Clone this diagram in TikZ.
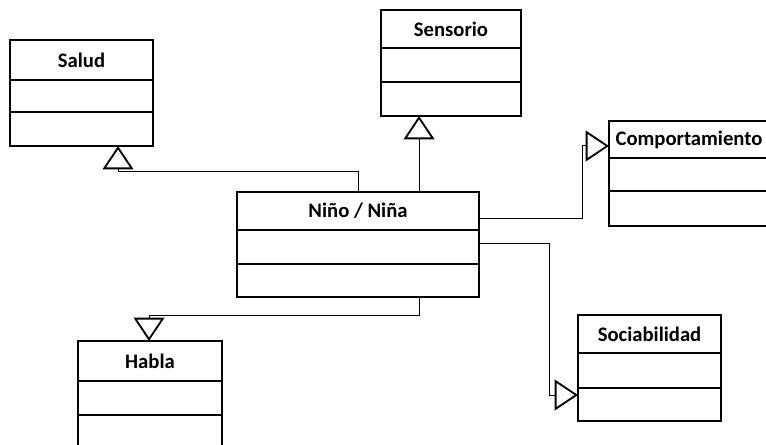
\documentclass[tikz,border=0pt]{standalone}
\usepackage{fontspec}
\setmainfont{Carlito}
\usetikzlibrary{arrows.meta}
\tikzset{
  hdr/.style={draw=black, fill=white, line width=1.5pt, inner sep=0pt, outer sep=0pt, anchor=north west,
    font=\fontsize{15.5}{17}\selectfont\bfseries},
  cmp/.style={draw=black, fill=white, line width=1.5pt, inner sep=0pt, outer sep=0pt, anchor=north},
  inh/.style={draw=black, line width=0.75pt,
    -{Triangle[open, length=17.5pt, width=23pt, line width=1.4pt]}},
}
\newcommand\umlclass[8]{%
  \node[hdr, minimum width=#4*0.75pt, minimum height=#5*0.75pt] (#1) at (#2,#3) {#8};
  \node[cmp, minimum width=#4*0.75pt, minimum height=#6*0.75pt] (#1-a) at (#1.south) {};
  \node[cmp, minimum width=#4*0.75pt, minimum height=#7*0.75pt] (#1-b) at (#1-a.south) {};
}
\begin{document}
\begin{tikzpicture}[x=0.75pt, y=-0.75pt]
\useasboundingbox (0,0) rectangle (766,445);
\clip (0,0) rectangle (766,445);
\umlclass{salud}{10}{40}{143}{40}{32}{34}{Salud}
\umlclass{sensorio}{381}{10}{140}{38}{34}{34}{Sensorio}
\umlclass{nino}{237}{192}{242}{38}{34}{33}{Niño / Niña}
\umlclass{comport}{609}{121}{160}{37}{33}{35}{Comportamiento}
\umlclass{social}{578}{315}{143}{38}{35}{33}{Sociabilidad}
\umlclass{habla}{78}{341}{144}{40}{34}{40}{Habla}
% connectors
\coordinate (c1) at (118,172);
\coordinate (c2) at (582,146);
\coordinate (c3) at (549,395);
\coordinate (c4) at (149,315);
\draw[inh] (nino.north -| 358,0) |- (c1) -- (salud-b.south -| c1);
\draw[inh] (nino.north -| 419,0) -- (sensorio-b.south -| 419,0);
\draw[inh] (nino.east |- 0,218) -| (c2) -- (comport.west |- c2);
\draw[inh] (nino.east |- 0,243) -| (c3) -- (social-b.west |- c3);
\draw[inh] (nino-b.south -| 419,0) |- (c4) -- (habla.north -| c4);
\end{tikzpicture}
\end{document}
